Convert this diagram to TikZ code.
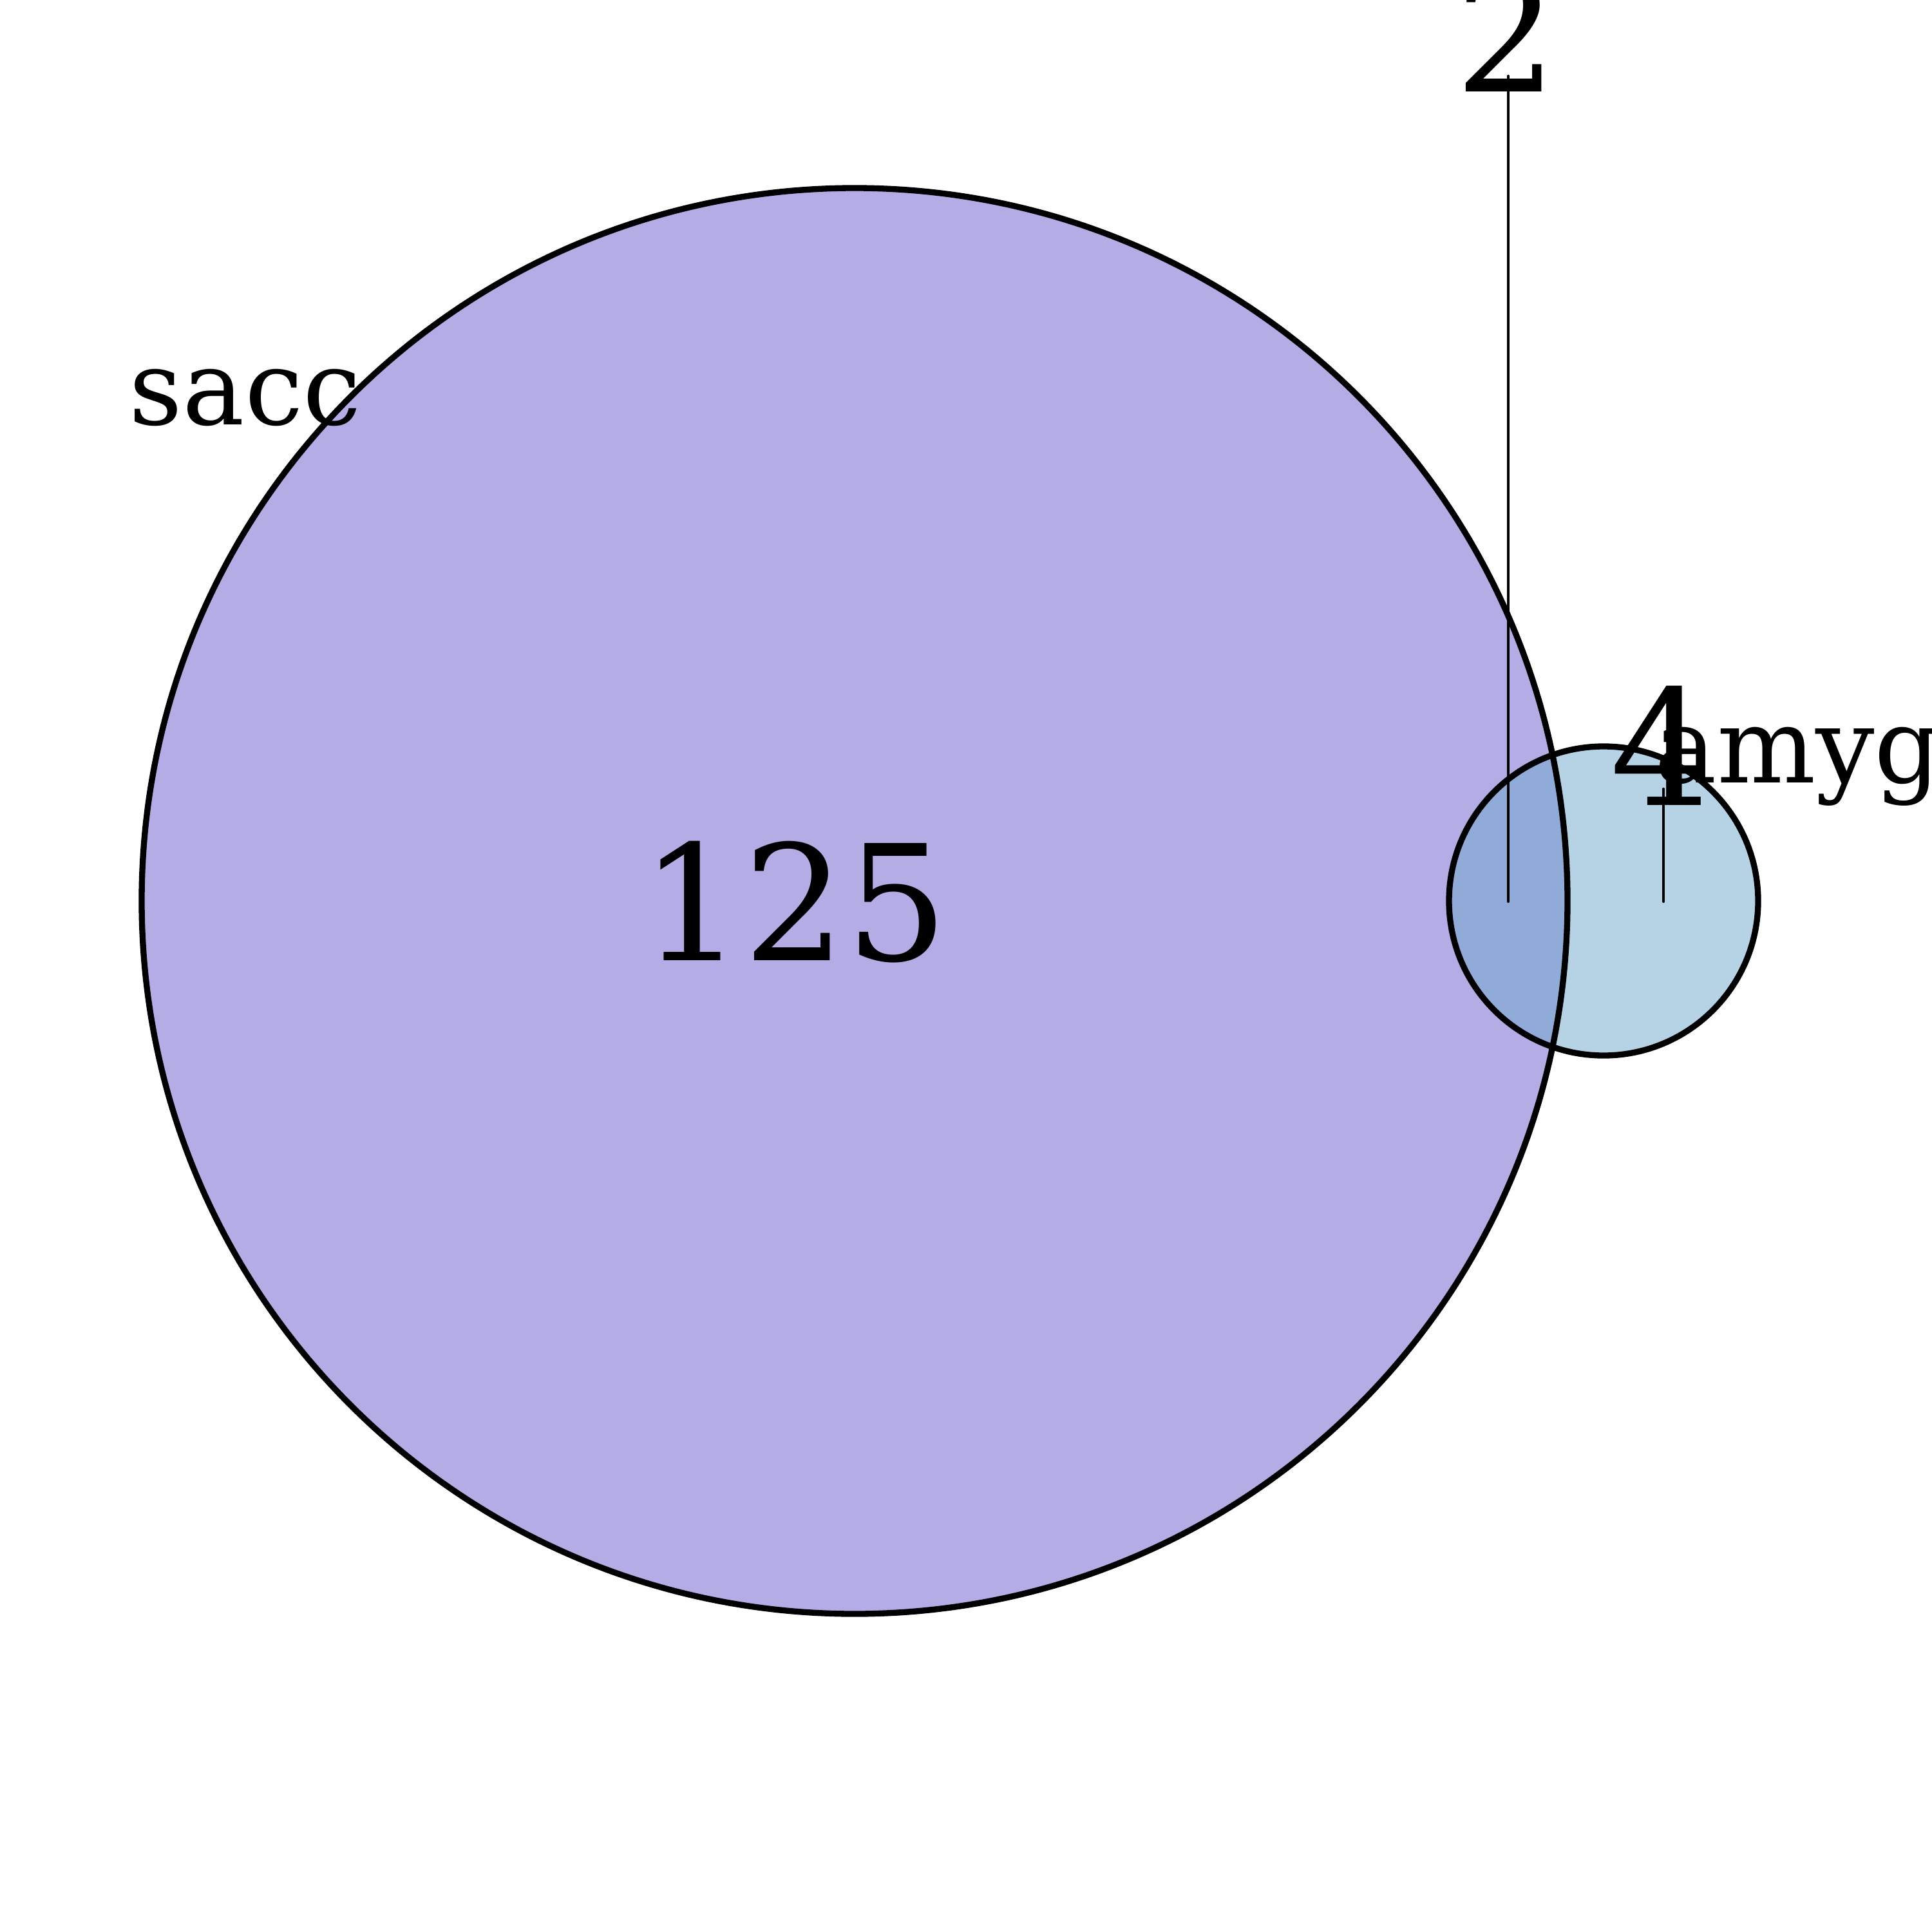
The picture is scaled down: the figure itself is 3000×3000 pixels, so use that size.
\documentclass[tikz,border=0pt]{standalone}
\usepackage{fontspec}
\setmainfont{DejaVu Serif}
\definecolor{saccfill}{RGB}{180,173,229}
\definecolor{amygfill}{RGB}{182,211,230}
\definecolor{bothfill}{RGB}{145,171,216}
\begin{document}
\begin{tikzpicture}[x=.01cm,y=-.01cm,line width=2.65pt,
  num/.style={anchor=base,inner sep=0pt,font=\fontsize{71}{80}\selectfont},
  lbl/.style={anchor=base west,inner sep=0pt,font=\fontsize{46}{54}\selectfont},
  lead/.style={line width=1.15pt,line cap=round}]
\useasboundingbox (0,0) rectangle (3000,3000);
\clip (0,0) rectangle (3000,3000);
\coordinate (sacc) at (1327,1399);\coordinate (amyg) at (2490,1399);
\fill[saccfill] (sacc) circle[radius=1107];
\fill[amygfill] (amyg) circle[radius=240];
\begin{scope}\clip (sacc) circle[radius=1107];\fill[bothfill] (amyg) circle[radius=240];\end{scope}
\draw (sacc) circle[radius=1107];
\draw (amyg) circle[radius=240];
\node[lbl] (sacclbl) at (196,659) {sacc};
\node[lbl] (amyglbl) at (2565,1215) {amyg};
\node[num] (n125) at (1234,1491) {125};
\node[num] (n2) at (2339,143) {2};
\node[num] (n4) at (2580,1250) {4};
\coordinate (t2) at (2342,118);\coordinate (b2) at (2342,1400);
\coordinate (t4) at (2583,1225);\coordinate (b4) at (2583,1400);
\draw[lead] (t2)--(b2);
\draw[lead] (t4)--(b4);
\end{tikzpicture}
\end{document}
